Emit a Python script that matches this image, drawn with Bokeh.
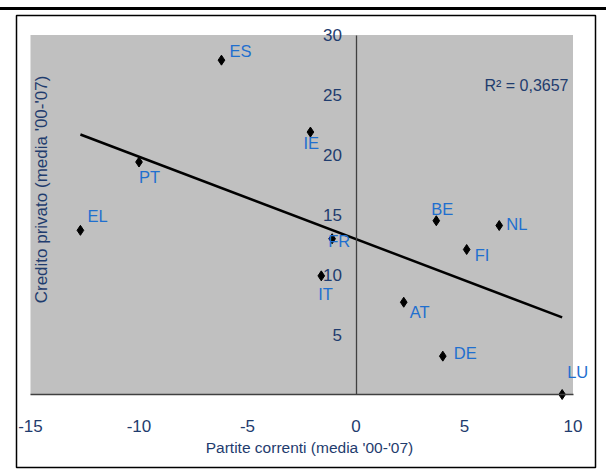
import numpy as np
from bokeh.plotting import figure
from bokeh.models import ColumnDataSource, LinearAxis, FixedTicker, BoxAnnotation, Label
from bokeh.core.properties import value
from bokeh.embed import file_html
from bokeh.resources import INLINE

# Euro-area countries: current account vs private credit growth, 2000-2007 averages
countries = ["ES", "PT", "EL", "IE", "BE", "NL", "FR", "FI", "IT", "AT", "DE", "LU"]
current_account = [-6.2, -10.0, -12.7, -2.1, 3.7, 6.6, -1.1, 5.1, -1.6, 2.2, 4.0, 9.5]
private_credit = [27.9, 19.4, 13.7, 21.9, 14.5, 14.1, 13.0, 12.1, 9.9, 7.7, 3.2, 0.0]

x_ticks = [-15, -10, -5, 0, 5, 10]
x_tick_labels = ["-15", "-10", "-5", "0", "5", "10"]
y_ticks = [5, 10, 15, 20, 25, 30]
y_tick_labels = ["5", "10", "15", "20", "25", "30"]
x_bounds = (-15, 10)
y_bounds = (0, 30)
r2_text = "R\u00b2 = 0,3657"
x_title = "Partite correnti (media '00-'07)"
y_title = "Credito privato (media '00-'07)"

# pixel nudges for the country tags (relative to each marker)
label_dx = [8, 0, 7, -7, -5, 7, -4, 8, -3, 6, 11, 5]
label_dy = [-9, 15, -14, 11, -12, -2, 2, 5, 18, 10, -3, -23]

FONT = "Liberation Sans"
NAVY = "#1f3c6e"
BLUE = "#1f6fcf"
GREY_BG = "#c0c0c0"
AXIS_GREY = "#404040"

# canvas layout (pixels)
W, H = 606, 462
frame_l, frame_r, frame_t, frame_b = 16, 595, 5, 457
plot_l, plot_r, plot_t, plot_b = 30, 572.5, 24.5, 384

x_per_px = (x_bounds[1] - x_bounds[0]) / (plot_r - plot_l)
y_per_px = (y_bounds[1] - y_bounds[0]) / (plot_b - plot_t)
x_start = x_bounds[0] - (plot_l - frame_l) * x_per_px
x_end = x_bounds[1] + (frame_r - plot_r) * x_per_px
y_end = y_bounds[1] + (plot_t - frame_t) * y_per_px
y_start = y_bounds[0] - (frame_b - plot_b) * y_per_px


def px_x(px):
    return x_bounds[0] + (px - plot_l) * x_per_px


def px_y(py):
    return y_bounds[0] + (plot_b - py) * y_per_px


p = figure(
    width=W, height=H,
    x_range=(x_start, x_end), y_range=(y_start, y_end),
    x_axis_location=None, y_axis_location=None,
    toolbar_location=None, output_backend="svg",
    min_border_left=frame_l, min_border_right=W - frame_r,
    min_border_top=frame_t, min_border_bottom=H - frame_b,
)
p.styles = {"margin-top": "7px", "border-top": "3px solid black"}
p.xgrid.visible = False
p.ygrid.visible = False
p.outline_line_color = "black"
p.outline_line_width = 1.5
p.background_fill_color = "white"

# grey plotting area
p.add_layout(BoxAnnotation(left=x_bounds[0], right=x_bounds[1], bottom=y_bounds[0], top=y_bounds[1],
                           fill_color=GREY_BG, fill_alpha=1.0, line_color=None, level="underlay"))

# axes crossing at the origin
xaxis = LinearAxis(fixed_location=0, bounds=x_bounds, ticker=FixedTicker(ticks=x_ticks),
                   major_label_overrides=dict(zip(x_ticks, x_tick_labels)))
yaxis = LinearAxis(fixed_location=0, bounds=y_bounds, ticker=FixedTicker(ticks=y_ticks),
                   major_label_overrides=dict(zip(y_ticks, y_tick_labels)))
for ax, standoff in ((xaxis, 25), (yaxis, 14)):
    ax.axis_line_color = AXIS_GREY
    ax.axis_line_width = 1.3
    ax.major_tick_line_color = None
    ax.minor_tick_line_color = None
    ax.major_tick_out = 0
    ax.major_tick_in = 0
    ax.minor_tick_out = 0
    ax.minor_tick_in = 0
    ax.major_label_standoff = standoff
    ax.major_label_text_font = FONT
    ax.major_label_text_font_size = "17px"
    ax.major_label_text_color = NAVY
p.add_layout(xaxis, "below")
p.add_layout(yaxis, "left")

# linear trend
slope, intercept = np.polyfit(current_account, private_credit, 1)
trend_x = [min(current_account), max(current_account)]
trend_y = [slope * v + intercept for v in trend_x]
p.line(trend_x, trend_y, line_color="black", line_width=2.5)

src = ColumnDataSource(dict(x=current_account, y=private_credit, name=countries,
                            dx=label_dx, dy=label_dy))
p.scatter("x", "y", source=src, marker="diamond", size=10, color="black")
p.text("x", "y", text="name", source=src, x_offset="dx", y_offset="dy",
       text_align="left", text_baseline="middle", text_font=value(FONT),
       text_font_size="16.5px", text_color=BLUE)

p.add_layout(Label(x=px_x(568), y=px_y(75), text=r2_text, text_align="right",
                   text_baseline="middle", text_font=FONT, text_font_size="16px",
                   text_color=NAVY))
p.add_layout(Label(x=px_x(309), y=px_y(437), text=x_title, text_align="center",
                   text_baseline="middle", text_font=FONT, text_font_size="15.5px",
                   text_color=NAVY))
p.add_layout(Label(x=px_x(40.5), y=px_y(179), text=y_title, angle=np.pi / 2,
                   text_align="center", text_baseline="middle", text_font=FONT,
                   text_font_size="17px", text_color=NAVY))

open("out.html", "w").write(file_html(p, INLINE))
